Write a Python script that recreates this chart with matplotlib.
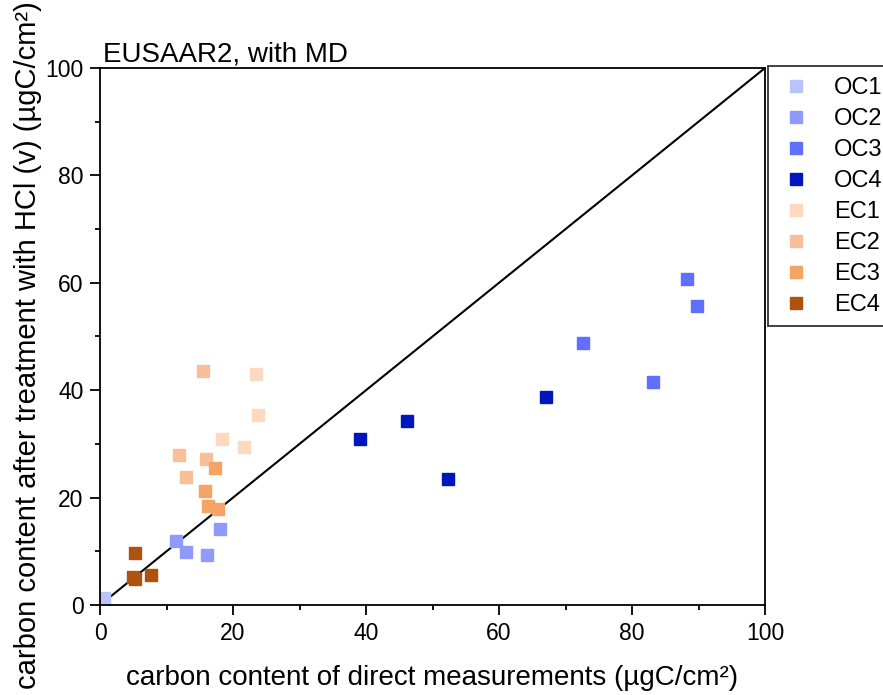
import matplotlib
matplotlib.use("Agg")
import matplotlib.pyplot as plt
from matplotlib.ticker import MultipleLocator

plt.rcParams['font.family'] = ['Liberation Sans', 'DejaVu Sans']

# data (x: direct, y: after HCl treatment)
labels = ['OC1', 'OC2', 'OC3', 'OC4', 'EC1', 'EC2', 'EC3', 'EC4']
colors = ['#b9c3fd', '#8e9bfd', '#5e70fd', '#0016bd',
          '#fcd9bf', '#f7c098', '#f5a466', '#b0520f']

oc1_x = [0.6]
oc1_y = [1.3]
oc2_x = [11.4, 12.9, 16.1, 18.0]
oc2_y = [11.9, 9.9, 9.3, 14.2]
oc3_x = [72.6, 83.2, 88.2, 89.8]
oc3_y = [48.7, 41.5, 60.7, 55.7]
oc4_x = [39.1, 46.2, 52.3, 67.1]
oc4_y = [30.9, 34.3, 23.5, 38.7]
ec1_x = [23.5, 23.8, 18.4, 21.7]
ec1_y = [43.0, 35.4, 31.0, 29.5]
ec2_x = [15.5, 11.8, 15.9, 12.9]
ec2_y = [43.5, 28.0, 27.2, 23.8]
ec3_x = [17.3, 15.8, 16.3, 17.8]
ec3_y = [25.5, 21.2, 18.4, 17.8]
ec4_x = [5.2, 5.3, 7.7, 5.0]
ec4_y = [9.6, 4.8, 5.5, 5.3]

xs = [oc1_x, oc2_x, oc3_x, oc4_x, ec1_x, ec2_x, ec3_x, ec4_x]
ys = [oc1_y, oc2_y, oc3_y, oc4_y, ec1_y, ec2_y, ec3_y, ec4_y]

fig = plt.figure(figsize=(8.83, 6.95), dpi=100)
ax = fig.add_axes([0.1133, 0.1295, 0.7531, 0.7727])

ax.plot([0, 100], [0, 100], color='black', lw=1.5, zorder=1)
for x, y, c, lab in zip(xs, ys, colors, labels):
    ax.plot(x, y, 's', color=c, ms=9.2, mec=c, label=lab, zorder=2)

ax.set_xlim(0, 100)
ax.set_ylim(0, 100)
ax.xaxis.set_major_locator(MultipleLocator(20))
ax.yaxis.set_major_locator(MultipleLocator(20))
ax.xaxis.set_minor_locator(MultipleLocator(10))
ax.yaxis.set_minor_locator(MultipleLocator(10))
ax.tick_params(which='major', direction='out', length=7, width=1.3, labelsize=16.5, pad=5)
ax.tick_params(which='minor', direction='out', length=3.5, width=1.3)
for s in ax.spines.values():
    s.set_linewidth(1.3)

ax.set_xlabel('carbon content of direct measurements (µgC/cm²)', fontsize=20, labelpad=15)
ax.set_ylabel('carbon content after treatment with HCl (v) (µgC/cm²)', fontsize=21)
ax.yaxis.set_label_coords(-0.088, 0.484)
ax.set_title('EUSAAR2, with MD', loc='left', fontsize=20, pad=2, x=0.005)

leg = ax.legend(loc='upper left', bbox_to_anchor=(1.004, 1.003), fontsize=17,
                frameon=True, fancybox=False, edgecolor='black', borderaxespad=0,
                handlelength=1.5, handletextpad=0.85, labelspacing=0.38,
                borderpad=0.45, markerscale=1.0)
leg.get_frame().set_linewidth(1.3)

fig.savefig('out.png', dpi=100)
